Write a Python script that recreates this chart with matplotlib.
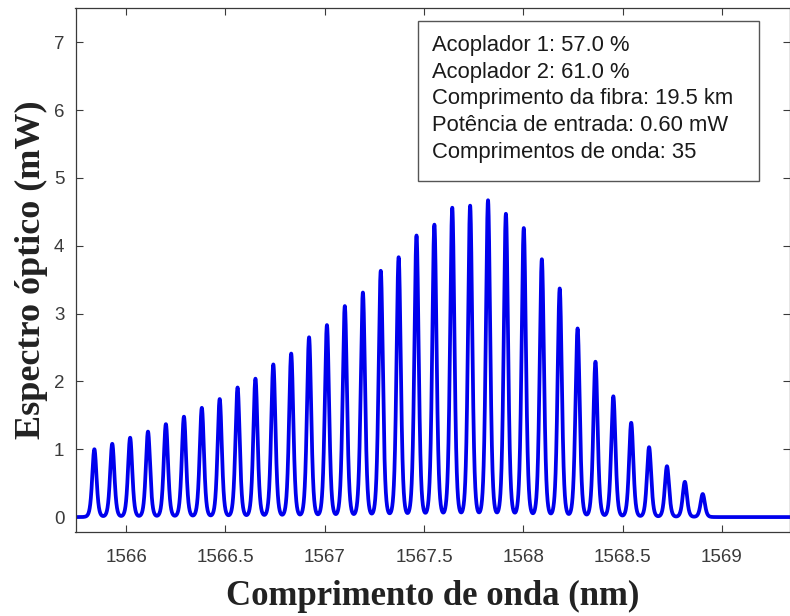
import numpy as np
import matplotlib
matplotlib.use("Agg")
from matplotlib import pyplot as plt
from matplotlib.patches import Rectangle

# peak centres (nm) and peak powers (mW)
peak_nm = [
    1565.840, 1565.930, 1566.020, 1566.110, 1566.200, 1566.291, 1566.381,
    1566.471, 1566.561, 1566.651, 1566.741, 1566.831, 1566.921, 1567.011,
    1567.101, 1567.192, 1567.282, 1567.372, 1567.462, 1567.552, 1567.642,
    1567.732, 1567.822, 1567.912, 1568.002, 1568.093, 1568.183, 1568.273,
    1568.363, 1568.453, 1568.543, 1568.633, 1568.723, 1568.813, 1568.903,
]
peak_mw = [
    1.00, 1.08, 1.17, 1.26, 1.37, 1.48, 1.61, 1.74, 1.91, 2.04, 2.25, 2.41,
    2.65, 2.83, 3.11, 3.31, 3.63, 3.83, 4.15, 4.31, 4.56, 4.59, 4.67, 4.47,
    4.26, 3.80, 3.37, 2.78, 2.29, 1.78, 1.39, 1.03, 0.75, 0.52, 0.34,
]
info_lines = [
    "Acoplador 1: 57.0 %",
    "Acoplador 2: 61.0 %",
    "Comprimento da fibra: 19.5 km",
    "Potência de entrada: 0.60 mW",
    "Comprimentos de onda: 35",
]
x_ticks = [1566, 1566.5, 1567, 1567.5, 1568, 1568.5, 1569]
x_ticklabels = ["1566", "1566.5", "1567", "1567.5", "1568", "1568.5", "1569"]
y_ticks = [0, 1, 2, 3, 4, 5, 6, 7]

W, H = 790, 616
fig = plt.figure(figsize=(W / 100, H / 100), dpi=100)
left, right, top, bottom = 75.5, 789.5, 8.3, 532.0
ax = fig.add_axes([left / W, 1 - bottom / H, (right - left) / W, (bottom - top) / H])

xmin, xmax = 1565.745, 1569.34
# line profile of each wavelength
a = 0.029
wl = np.linspace(xmin, xmax, 40000)
spec = np.zeros_like(wl)
for c, h in zip(peak_nm, peak_mw):
    spec += h / (1 + ((wl - c) / a) ** 2) ** 4

ax.plot(wl, spec, color=(0.0, 0.0, 0.93), linewidth=2.7, solid_joinstyle="round")

ax.set_xlim(xmin, xmax)
ax.set_ylim(-0.22, 7.5)
ax.set_xticks(x_ticks)
ax.set_xticklabels(x_ticklabels)
ax.set_yticks(y_ticks)

tick_color = "#3a3a3a"
ax.tick_params(
    direction="in", length=5, width=0.8, top=True, right=True,
    colors=tick_color, labelsize=13.5,
)
ax.tick_params(axis="x", pad=12.5)
ax.tick_params(axis="y", pad=8)
for lab in ax.get_xticklabels() + ax.get_yticklabels():
    lab.set_fontfamily("Liberation Sans")
for s in ax.spines.values():
    s.set_color("#3a3a3a")
    s.set_linewidth(0.9)

ax.set_xlabel(
    "Comprimento de onda (nm)", fontfamily="Liberation Serif",
    fontweight="bold", fontsize=25, color="#222222", labelpad=10,
)
ax.set_ylabel(
    "Espectro óptico (mW)", fontfamily="Liberation Serif",
    fontweight="bold", fontsize=26, color="#222222", labelpad=4,
)

# info box
bx0, bx1, by0, by1 = 418, 759, 21, 181
fig.patches.append(Rectangle(
    (bx0 / W, 1 - by1 / H), (bx1 - bx0) / W, (by1 - by0) / H,
    transform=fig.transFigure, facecolor="white", edgecolor="#555555",
    linewidth=1.0, zorder=5,
))
for i, line in enumerate(info_lines):
    fig.text(
        431.5 / W, 1 - (45.5 + i * 26.7) / H, line,
        fontfamily="Liberation Sans", fontsize=15.8, color="#1a1a1a",
        va="center", ha="left", zorder=6,
    )

fig.savefig("out.png", dpi=100)
